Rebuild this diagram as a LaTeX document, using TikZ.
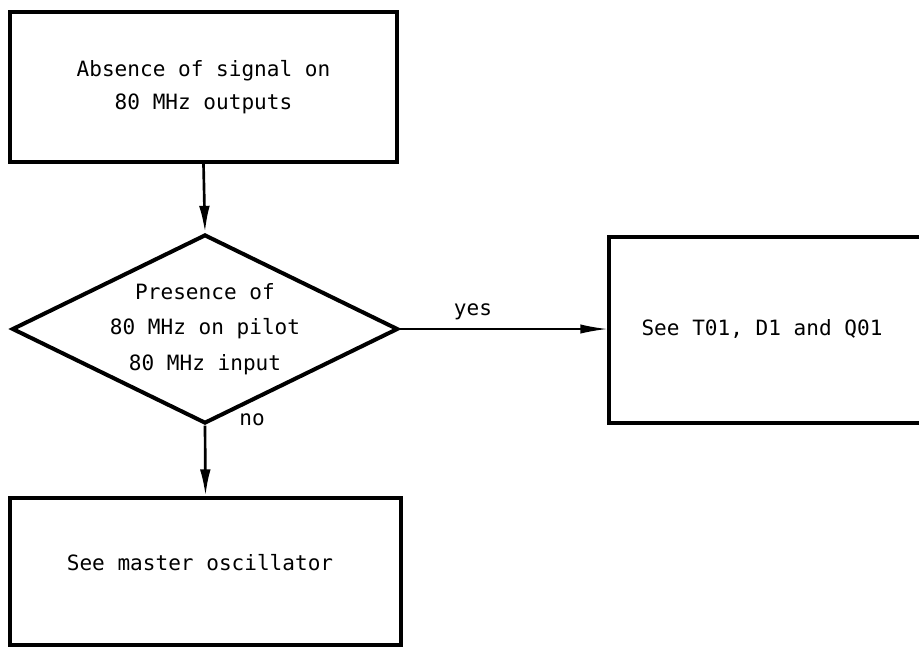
\documentclass[tikz,border=0pt]{standalone}
\usepackage{fontspec}
\setmonofont{DejaVu Sans Mono}
\usetikzlibrary{shapes.geometric,arrows.meta}
\begin{document}
\begin{tikzpicture}[x=0.75pt,y=-0.75pt,
  every node/.style={font=\ttfamily\fontsize{15.8}{25}\selectfont},
  boxnode/.style={draw,line width=3pt,rectangle,inner sep=0pt,align=center},
  decnode/.style={draw,line width=3pt,diamond,shape aspect=2.04,inner sep=0pt,align=center,font=\ttfamily\fontsize{15.8}{26.5}\selectfont},
  flow/.style={line width=2pt,-{Latex[length=20pt,width=8pt]}},
  thinflow/.style={line width=1pt,-{Latex[length=20pt,width=7pt]}},
  lbl/.style={inner sep=0pt}]
\useasboundingbox (0,0) rectangle (919,647);
\node[boxnode,minimum width=290.25pt,minimum height=112.5pt] (box1) at (203.5,87)
  {Absence of signal on\\80 MHz outputs};
\node[decnode,minimum width=289.5pt,minimum height=141.75pt] (dec) at (205,329)
  {Presence of\\80 MHz on pilot\\80 MHz input};
\node[boxnode,minimum width=237pt,minimum height=139.5pt] (box2) at (767,330) {};
\node[lbl] (t2) at (762,329) {See T01, D1 and Q01};
\node[boxnode,minimum width=293.25pt,minimum height=110.25pt] (box3) at (205.5,571.5) {};
\node[lbl] (t3) at (200,563) {See master oscillator};
\draw[flow] (box1.south) -- (dec.north);
\draw[flow] (dec.south) -- (box3.north);
\draw[thinflow] (dec.east) -- (dec.east -| box2.west);
\node[lbl] (yes) at (473,312) {yes};
\node[lbl] (no) at (252,420) {no};
\end{tikzpicture}
\end{document}
